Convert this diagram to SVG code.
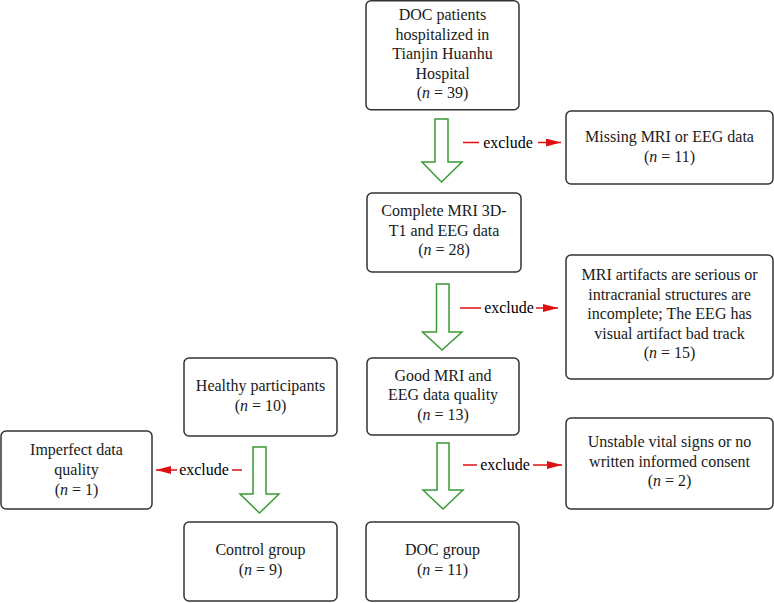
<svg xmlns="http://www.w3.org/2000/svg" width="774" height="603" viewBox="0 0 774 603">
<defs>
<style>
.box{fill:#fff;stroke:#333;stroke-width:1.5}
.t{font-family:'Liberation Serif','Times New Roman',serif;font-size:16px;fill:#1a1a1a;text-anchor:middle}
.ex{font-family:'Liberation Serif','Times New Roman',serif;font-size:16px;fill:#000;text-anchor:middle}
.g{fill:#fff;stroke:#3a9a35;stroke-width:1.5;stroke-linejoin:miter}
.r{stroke:#e01010;stroke-width:1.5;fill:none}
</style>
<marker id="rh" viewBox="0 0 10 10" refX="10" refY="5" markerWidth="15" markerHeight="8" markerUnits="userSpaceOnUse" orient="auto" preserveAspectRatio="none">
<path d="M0,0 L10,5 L0,10 Z" fill="#e01010"/>
</marker>
</defs>
<rect width="774" height="603" fill="#fff"/>
<g id="n1"><rect class="box" x="366" y="0.8" width="153" height="109" rx="5"/>
<text class="t" x="442.5" y="20">DOC patients</text>
<text class="t" x="442.5" y="39.5">hospitalized in</text>
<text class="t" x="442.5" y="59">Tianjin Huanhu</text>
<text class="t" x="442.5" y="78.5">Hospital</text>
<text class="t" x="442.5" y="98">(<tspan font-style="italic">n</tspan> = 39)</text></g>
<g id="n2"><rect class="box" x="566" y="111" width="207" height="73" rx="5"/>
<text class="t" x="669.5" y="142">Missing MRI or EEG data</text>
<text class="t" x="669.5" y="162">(<tspan font-style="italic">n</tspan> = 11)</text></g>
<g id="n3"><rect class="box" x="367" y="193" width="154" height="79" rx="5"/>
<text class="t" x="444" y="216">Complete MRI 3D-</text>
<text class="t" x="444" y="235.5">T1 and EEG data</text>
<text class="t" x="444" y="255">(<tspan font-style="italic">n</tspan> = 28)</text></g>
<g id="n4"><rect class="box" x="566" y="255" width="207" height="124" rx="5"/>
<text class="t" x="669.5" y="280">MRI artifacts are serious or</text>
<text class="t" x="669.5" y="299.5">intracranial structures are</text>
<text class="t" x="669.5" y="319">incomplete; The EEG has</text>
<text class="t" x="669.5" y="338.5">visual artifact bad track</text>
<text class="t" x="669.5" y="358">(<tspan font-style="italic">n</tspan> = 15)</text></g>
<g id="n5"><rect class="box" x="367" y="358" width="152" height="77" rx="5"/>
<text class="t" x="443" y="381">Good MRI and</text>
<text class="t" x="443" y="400">EEG data quality</text>
<text class="t" x="443" y="419.5">(<tspan font-style="italic">n</tspan> = 13)</text></g>
<g id="n6"><rect class="box" x="566" y="418" width="207" height="91" rx="5"/>
<text class="t" x="669.5" y="447">Unstable vital signs or no</text>
<text class="t" x="669.5" y="466.5">written informed consent</text>
<text class="t" x="669.5" y="486">(<tspan font-style="italic">n</tspan> = 2)</text></g>
<g id="n7"><rect class="box" x="184" y="358" width="153" height="78" rx="5"/>
<text class="t" x="260.5" y="391">Healthy participants</text>
<text class="t" x="260.5" y="411">(<tspan font-style="italic">n</tspan> = 10)</text></g>
<g id="n8"><rect class="box" x="1" y="431" width="151" height="78" rx="5"/>
<text class="t" x="76.5" y="455">Imperfect data</text>
<text class="t" x="76.5" y="475">quality</text>
<text class="t" x="76.5" y="494.5">(<tspan font-style="italic">n</tspan> = 1)</text></g>
<g id="n9"><rect class="box" x="184" y="522" width="153" height="79" rx="5"/>
<text class="t" x="260.5" y="555">Control group</text>
<text class="t" x="260.5" y="575">(<tspan font-style="italic">n</tspan> = 9)</text></g>
<g id="n10"><rect class="box" x="366" y="522" width="153" height="79" rx="5"/>
<text class="t" x="442.5" y="555">DOC group</text>
<text class="t" x="442.5" y="575">(<tspan font-style="italic">n</tspan> = 11)</text></g>
<g id="connectors">
<path class="g" d="M435,119 H448 V162 H462 L441.5,182 L422,162 H435 Z"/>
<path class="g" d="M436.5,284 H449 V332 H462 L442,350 L422.5,332 H436.5 Z"/>
<path class="g" d="M437,443 H449 V490 H463 L443,509 L423,490 H437 Z"/>
<path class="g" d="M253,447 H266 V494 H279 L259.5,513 L240,494 H253 Z"/>
<line class="r" x1="463" y1="142.5" x2="479" y2="142.5"/>
<text class="ex" x="508" y="147.5">exclude</text>
<line class="r" x1="538" y1="142.5" x2="561" y2="142.5" marker-end="url(#rh)"/>
<line class="r" x1="460" y1="308" x2="481" y2="308"/>
<text class="ex" x="509" y="313">exclude</text>
<line class="r" x1="536" y1="308" x2="558" y2="308" marker-end="url(#rh)"/>
<line class="r" x1="463" y1="465" x2="477" y2="465"/>
<text class="ex" x="505" y="470">exclude</text>
<line class="r" x1="533" y1="465" x2="562" y2="465" marker-end="url(#rh)"/>
<line class="r" x1="242" y1="470" x2="232" y2="470"/>
<text class="ex" x="204" y="475">exclude</text>
<line class="r" x1="177" y1="470" x2="156" y2="470" marker-end="url(#rh)"/>
</g>
</svg>
